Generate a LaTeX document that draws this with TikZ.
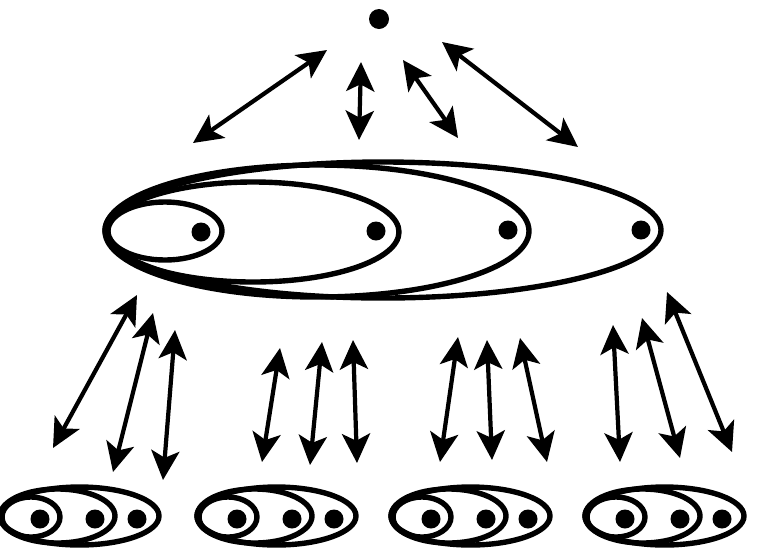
\documentclass[tikz,border=0pt]{standalone}
\usetikzlibrary{shapes.geometric,arrows.meta}
\begin{document}
\begin{tikzpicture}[x=0.03cm,y=-0.03cm,
  ell/.style 2 args={ellipse,draw,line width=4.6pt,minimum width={#1*0.06cm},minimum height={#2*0.06cm},inner sep=0pt,outer sep=0pt},
  dotn/.style={circle,fill,draw=none,inner sep=0pt,minimum size={#1*0.06cm}},
  tipk/.tip={Stealth[length=25pt,width=24pt,inset=6pt]},
  dbl/.style={line width=3.6pt,tipk-tipk},
  grp/.pic={
    \node[ell={79.5}{29}] (-o) at (79.5,516) {};
    \node[ell={57.5}{27}] (-m) at (57.5,516) {};
    \node[ell={29}{20}] (-s) at (31,517) {};
    \node[dotn=9.5] (-d1) at (40,519) {};
    \node[dotn=9.5] (-d2) at (95,519) {};
    \node[dotn=9.5] (-d3) at (137,519) {};
  }]
\useasboundingbox (0,0) rectangle (768,549);
% top point
\node[dotn=10] (top) at (379,19) {};
% big nested ellipses
\node[ell={278}{68}] (E1) at (383,230) {};
\node[ell={212}{66}] (E2) at (317,231) {};
\node[ell={146}{50}] (E3) at (253,232) {};
\node[ell={57}{29}] (E4) at (165,231) {};
\node[dotn=9.5] (e4d) at (201,232) {};
\node[dotn=9.5] (e3d) at (376,231) {};
\node[dotn=9.5] (e2d) at (508,230) {};
\node[dotn=9.5] (e1d) at (641,230) {};
% small groups
\pic (g1) at (0,0) {grp};
\pic (g2) at (197,0) {grp};
\pic (g3) at (391,0) {grp};
\pic (g4) at (585,0) {grp};
% arrow end points
\coordinate (t1a) at (193,143); \coordinate (t1b) at (327,50);
\coordinate (t2a) at (359,140); \coordinate (t2b) at (361,62);
\coordinate (t3a) at (458,138); \coordinate (t3b) at (403,60);
\coordinate (t4a) at (578,147); \coordinate (t4b) at (442,42);
\coordinate (a1a) at (53,448);  \coordinate (a1b) at (137,295);
\coordinate (a2a) at (113,472); \coordinate (a2b) at (153,313);
\coordinate (a3a) at (163,480); \coordinate (a3b) at (175,330);
\coordinate (b1a) at (262,462); \coordinate (b1b) at (280,348);
\coordinate (b2a) at (310,465); \coordinate (b2b) at (322,342);
\coordinate (b3a) at (357,463); \coordinate (b3b) at (353,340);
\coordinate (c1a) at (440,462); \coordinate (c1b) at (458,337);
\coordinate (c2a) at (492,460); \coordinate (c2b) at (487,340);
\coordinate (c3a) at (547,462); \coordinate (c3b) at (520,338);
\coordinate (d1a) at (620,462); \coordinate (d1b) at (613,325);
\coordinate (d2a) at (680,458); \coordinate (d2b) at (642,318);
\coordinate (d3a) at (732,452); \coordinate (d3b) at (667,292);
% arrows
\foreach \n in {t1,t2,t3,t4,a1,a2,a3,b1,b2,b3,c1,c2,c3,d1,d2,d3}
  \draw[dbl] (\n a) -- (\n b);
\end{tikzpicture}
\end{document}
